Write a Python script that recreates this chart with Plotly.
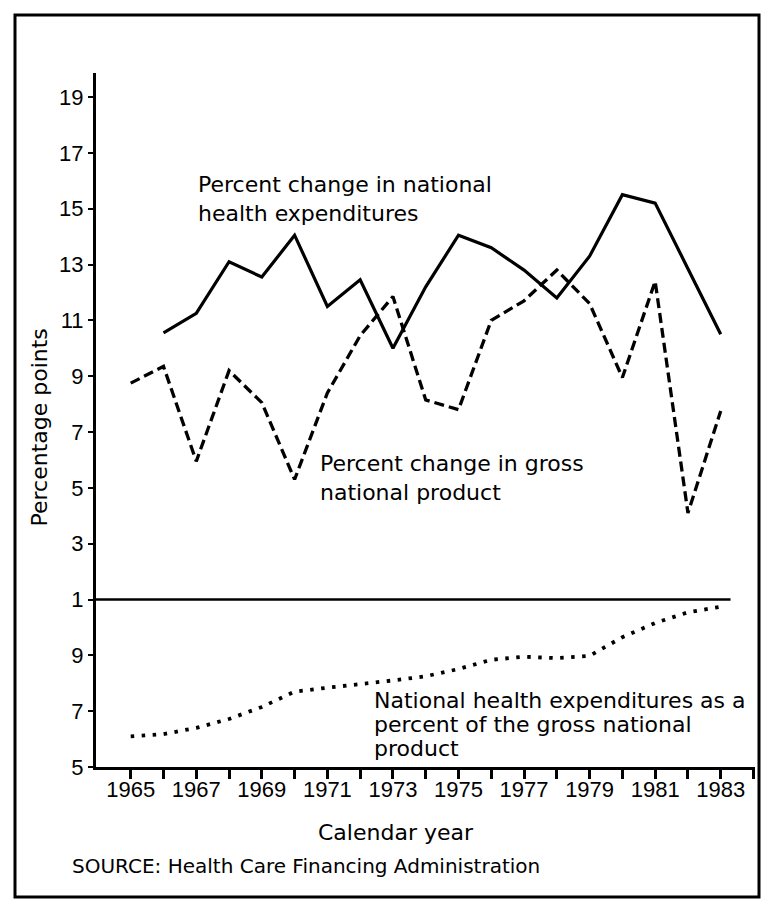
import plotly.graph_objects as go

# ---------------- data ----------------
years_gnp = list(range(1965, 1984))
gnp_change = [8.75, 9.35, 5.95, 9.2, 8.05, 5.3, 8.4, 10.45, 11.85, 8.15, 7.8,
              11.0, 11.7, 12.8, 11.6, 8.95, 12.4, 4.1, 7.75]

years_nhe = list(range(1966, 1984))
nhe_change = [10.55, 11.25, 13.1, 12.55, 14.05, 11.5, 12.45, 10.0, 12.2, 14.05,
              13.6, 12.8, 11.8, 13.3, 15.5, 15.2, 12.85, 10.5]

years_share = list(range(1965, 1984))
nhe_share_gnp = [6.1, 6.18, 6.4, 6.72, 7.15, 7.7, 7.84, 7.96, 8.1, 8.25, 8.51,
                 8.84, 8.95, 8.9, 8.98, 9.65, 10.16, 10.54, 10.74]

top_tick_values = [1, 3, 5, 7, 9, 11, 13, 15, 17, 19]
bottom_tick_values = [5, 7, 9]
bottom_offset = 10          # bottom panel value v is drawn at v - 10 (11 meets 1)
panel_split = 1
split_end_year = 1983.3

x_tick_years = list(range(1965, 1985))
x_tick_labels = [str(y) if (y % 2 == 1 and y <= 1983) else "" for y in x_tick_years]

# ---------------- figure ----------------
W, H = 774, 914
L, R, T, B = 96, 755, 73, 767
x_range = [1963.941, 1984.046]
y_range = [-5, 19.86]

def px_x(p):
    return (p - L) / (R - L)

def px_y(p):
    return (B - p) / (B - T)

fig = go.Figure()

fig.add_trace(go.Scatter(
    x=years_nhe, y=nhe_change, mode="lines",
    line=dict(color="black", width=3.2), hoverinfo="skip", showlegend=False))

fig.add_trace(go.Scatter(
    x=years_gnp, y=gnp_change, mode="lines",
    line=dict(color="black", width=3.3, dash="10px,5px"), hoverinfo="skip",
    showlegend=False))

fig.add_trace(go.Scatter(
    x=years_share, y=[v - bottom_offset for v in nhe_share_gnp], mode="lines",
    line=dict(color="black", width=3.8, dash="3.5px,7.5px"), hoverinfo="skip",
    showlegend=False))

y_tickvals = [v - bottom_offset for v in bottom_tick_values] + top_tick_values
y_ticktext = [str(v) for v in bottom_tick_values] + [str(v) for v in top_tick_values]

fig.update_layout(
    width=W, height=H, autosize=False,
    margin=dict(l=L, r=W - R, t=T, b=H - B, pad=0),
    paper_bgcolor="white", plot_bgcolor="white",
    font=dict(family="DejaVu Sans", color="black", size=22),
    xaxis=dict(range=x_range, showgrid=False, zeroline=False,
               showline=True, linewidth=3, linecolor="black",
               ticks="outside", ticklen=9, tickwidth=2.5, tickcolor="black",
               tickvals=x_tick_years, ticktext=x_tick_labels,
               tickfont=dict(family="Liberation Sans", size=22, color="black"),
               ticklabelstandoff=-8),
    yaxis=dict(range=y_range, showgrid=False, zeroline=False,
               showline=True, linewidth=3, linecolor="black",
               ticks="outside", ticklen=5, tickwidth=2, tickcolor="black",
               tickvals=y_tickvals, ticktext=y_ticktext,
               tickfont=dict(family="Liberation Sans", size=22, color="black")),
)

# panel separator line
fig.add_shape(type="line", xref="x", yref="y",
              x0=x_range[0], x1=split_end_year, y0=panel_split, y1=panel_split,
              line=dict(color="black", width=2.5))

# outer frame
fig.add_shape(type="rect", xref="paper", yref="paper",
              x0=px_x(15), x1=px_x(759), y0=px_y(897), y1=px_y(15),
              line=dict(color="black", width=3), layer="above")

ann = dict(showarrow=False, font=dict(family="DejaVu Sans", size=22, color="black"))

fig.add_annotation(x=1967.0, y=15.35, xref="x", yref="y", xanchor="left", yanchor="middle",
                   align="left", text="Percent change in national<br>health expenditures", **ann)
fig.add_annotation(x=1970.72, y=5.35, xref="x", yref="y", xanchor="left", yanchor="middle",
                   align="left", text="Percent change in gross<br>national product", **ann)
fig.add_annotation(x=1972.35, y=-2.6, xref="x", yref="y", xanchor="left", yanchor="middle",
                   text="National health expenditures as a", **ann)
fig.add_annotation(x=1972.35, y=-3.48, xref="x", yref="y", xanchor="left", yanchor="middle",
                   text="percent of the gross national", **ann)
fig.add_annotation(x=1972.35, y=-4.33, xref="x", yref="y", xanchor="left", yanchor="middle",
                   text="product", **ann)

fig.add_annotation(x=px_x(39), y=px_y(427.5), xref="paper", yref="paper",
                   xanchor="center", yanchor="middle", textangle=-90,
                   text="Percentage points", **ann)
fig.add_annotation(x=px_x(395.8), y=px_y(832), xref="paper", yref="paper",
                   xanchor="center", yanchor="middle", text="Calendar year", **ann)
fig.add_annotation(x=px_x(70), y=px_y(866), xref="paper", yref="paper",
                   xanchor="left", yanchor="middle",
                   text="SOURCE: Health Care Financing Administration",
                   showarrow=False, font=dict(family="DejaVu Sans", size=20, color="black"))

fig.write_html("out.html", config={"displayModeBar": False},
               post_script="document.body.style.margin='0';")
